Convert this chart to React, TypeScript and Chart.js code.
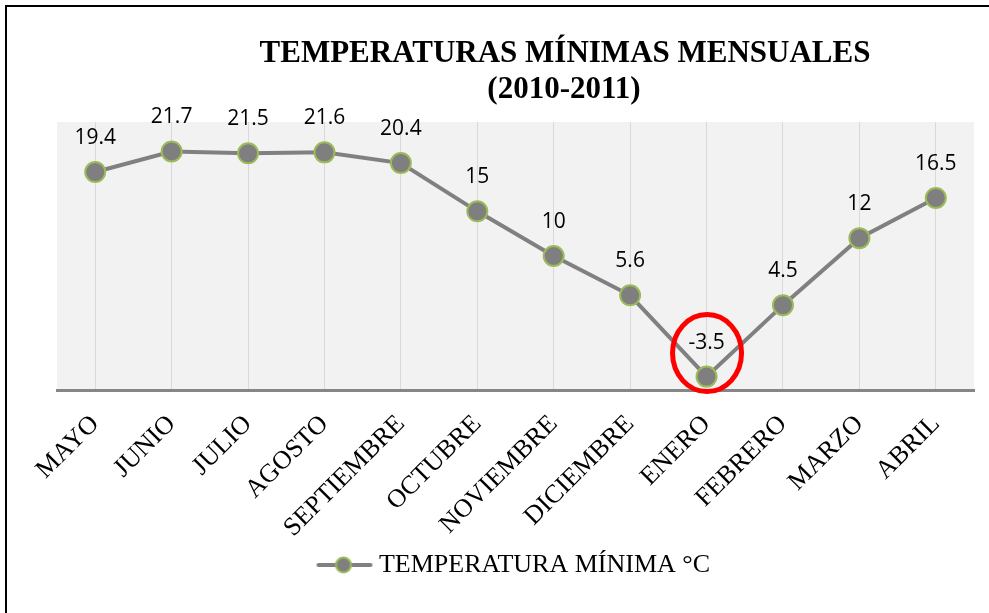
import React, { useEffect, useRef } from "react";
import { Chart, registerables } from "chart.js";

Chart.register(...registerables);

const categories = [
  "MAYO", "JUNIO", "JULIO", "AGOSTO", "SEPTIEMBRE", "OCTUBRE",
  "NOVIEMBRE", "DICIEMBRE", "ENERO", "FEBRERO", "MARZO", "ABRIL",
];
const tempMin = [19.4, 21.7, 21.5, 21.6, 20.4, 15, 10, 5.6, -3.5, 4.5, 12, 16.5];
const yMin = -5;
const yMax = 25;
const seriesName = "TEMPERATURA MÍNIMA °C";
const titleLines = ["TEMPERATURAS MÍNIMAS MENSUALES", "(2010-2011)"];
const highlighted = "ENERO";

const LINE = "#808080";
const POINT_FILL = "#7f7f7f";
const POINT_EDGE = "#9bbb59";

function makeLegendMarker(): HTMLCanvasElement {
  const c = document.createElement("canvas");
  c.width = 62;
  c.height = 20;
  const ctx = c.getContext("2d")!;
  ctx.strokeStyle = LINE;
  ctx.lineWidth = 4;
  ctx.lineCap = "round";
  ctx.beginPath();
  ctx.moveTo(6, 10);
  ctx.lineTo(58, 10);
  ctx.stroke();
  ctx.beginPath();
  ctx.arc(31, 10, 7.5, 0, Math.PI * 2);
  ctx.fillStyle = POINT_FILL;
  ctx.fill();
  ctx.lineWidth = 2;
  ctx.strokeStyle = POINT_EDGE;
  ctx.stroke();
  return c;
}

const decorPlugin = {
  id: "decor",
  beforeDraw(chart: any) {
    const { ctx, chartArea } = chart;
    ctx.save();
    ctx.fillStyle = "#ffffff";
    ctx.fillRect(0, 0, chart.width, chart.height);
    ctx.fillStyle = "#f2f2f2";
    ctx.fillRect(chartArea.left, chartArea.top, chartArea.right - chartArea.left, chartArea.bottom - chartArea.top);
    ctx.restore();
  },
  afterDatasetsDraw(chart: any) {
    const { ctx } = chart;
    const meta = chart.getDatasetMeta(0);
    ctx.save();
    ctx.fillStyle = "#000000";
    ctx.font = '21px "Open Sans"';
    ctx.textAlign = "center";
    ctx.textBaseline = "alphabetic";
    meta.data.forEach((pt: any, i: number) => {
      ctx.fillText(String(tempMin[i]), pt.x, pt.y - 28);
    });
    const idx = categories.indexOf(highlighted);
    if (idx >= 0) {
      const pt = meta.data[idx];
      ctx.beginPath();
      ctx.ellipse(pt.x + 0.5, pt.y - 23.5, 34.5, 38.5, 0, 0, Math.PI * 2);
      ctx.lineWidth = 5;
      ctx.strokeStyle = "#ff0000";
      ctx.stroke();
    }
    ctx.restore();
  },
  afterDraw(chart: any) {
    const { ctx } = chart;
    ctx.save();
    ctx.fillStyle = "#000000";
    ctx.textAlign = "center";
    ctx.textBaseline = "alphabetic";
    ctx.font = 'bold 31px "Liberation Serif"';
    ctx.fillText(titleLines[0], 565, 62);
    ctx.fillText(titleLines[1], 564, 98);
    ctx.lineWidth = 2;
    ctx.strokeStyle = "#000000";
    ctx.strokeRect(6, 6, 1000, 700);
    ctx.restore();
  },
};

export default function App() {
  const ref = useRef<HTMLCanvasElement | null>(null);
  useEffect(() => {
    if (!ref.current) return;
    const marker = makeLegendMarker();
    const chart = new Chart(ref.current, {
      type: "line",
      data: {
        labels: categories,
        datasets: [
          {
            label: seriesName,
            data: tempMin,
            borderColor: LINE,
            borderWidth: 4,
            backgroundColor: POINT_FILL,
            pointBackgroundColor: POINT_FILL,
            pointBorderColor: POINT_EDGE,
            pointBorderWidth: 2,
            pointRadius: 10,
            tension: 0,
          },
        ],
      },
      options: {
        responsive: false,
        animation: false,
        layout: { padding: { left: 57, right: 15, top: 122, bottom: 25 } },
        scales: {
          x: {
            offset: true,
            grid: { display: true, color: "#d9d9d9", lineWidth: 1, drawTicks: false },
            border: { display: true, color: "#868686", width: 3 },
            ticks: {
              color: "#000000",
              font: { family: "Liberation Serif", size: 26 },
              maxRotation: 45,
              minRotation: 45,
              padding: 19,
              autoSkip: false,
            },
            afterFit(scale: any) {
              scale.height = 152;
            },
          },
          y: {
            display: false,
            min: yMin,
            max: yMax,
          },
        },
        plugins: {
          title: { display: false },
          tooltip: { enabled: false },
          legend: {
            display: true,
            position: "bottom",
            labels: {
              usePointStyle: true,
              pointStyleWidth: 45,
              padding: 10,
              color: "#000000",
              font: { family: "Liberation Serif", size: 26 },
              generateLabels: () => [
                {
                  text: seriesName,
                  pointStyle: marker as any,
                  fillStyle: POINT_FILL,
                  strokeStyle: LINE,
                  lineWidth: 0,
                  hidden: false,
                  datasetIndex: 0,
                },
              ],
            },
          },
        },
      },
      plugins: [decorPlugin],
    });
    return () => chart.destroy();
  }, []);
  return (
    <div style={{ position: "fixed", left: 0, top: 0, width: 989, height: 613 }}>
      <canvas ref={ref} width={989} height={613} />
    </div>
  );
}
